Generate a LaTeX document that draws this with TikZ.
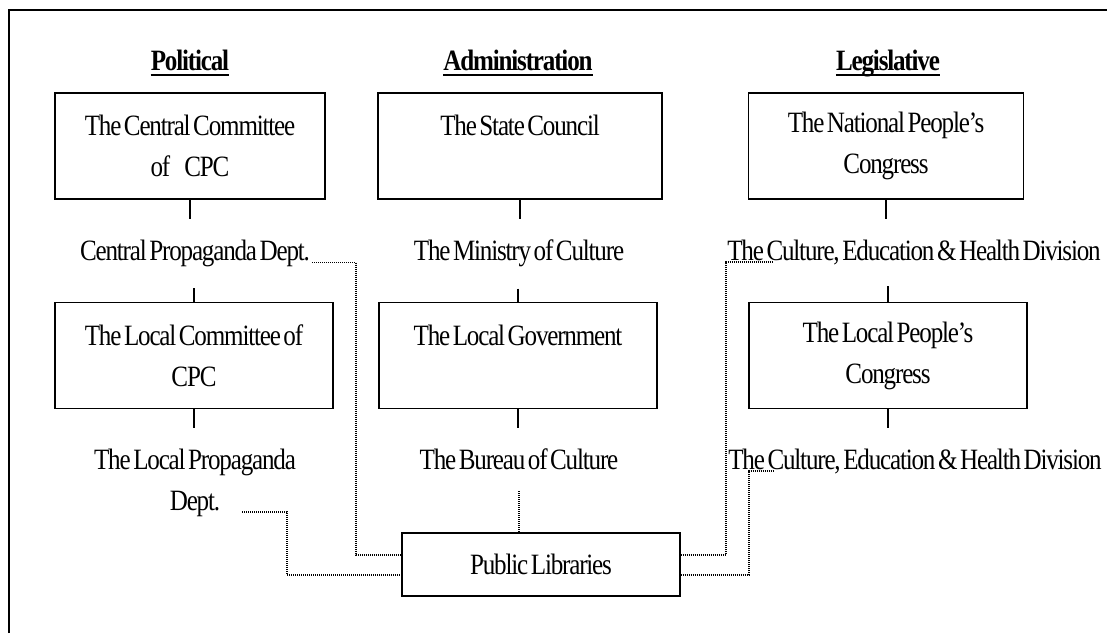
\documentclass[tikz,border=0pt]{standalone}
\usepackage{fontspec}
\setmainfont{Liberation Serif}[FakeStretch=0.85,LetterSpace=-4.0,WordSpace=0.5]

\begin{document}
\begin{tikzpicture}[x=1pt,y=-1pt,
	every node/.style={font=\fontsize{29.5}{41}\selectfont},
	orgbox/.style={draw,line width=1.2pt,minimum width=278pt,minimum height=106pt,align=center,inner sep=0pt},
	unit/.style={align=center,inner xsep=2pt,inner ysep=21pt,anchor=north},
	head/.style={font=\fontsize{29.5}{41}\selectfont\bfseries,inner sep=0pt,anchor=base},
	link/.style={line width=1.2pt},
	dotline/.style={line width=1.3pt,dash pattern=on 1pt off 1pt}]
	\useasboundingbox (0,0) rectangle (1107,633);
	\draw[line width=1.8pt] (9,633) -- (9,10) -- (1107,10);

	\node[head] (pol) at (190,70) {Political};
	\node[head] (adm) at (518,70) {Administration};
	\node[head] (leg) at (888,70) {Legislative};
	\foreach \h in {pol,adm,leg}
		\draw[line width=1.8pt] ([yshift=-5pt]\h.base west) -- ([yshift=-5pt]\h.base east);

	\node[orgbox,minimum width=270pt] (cc) at (190,146) {The Central Committee\\of\hspace{14pt}CPC};
	\node[orgbox,minimum width=284pt] (sc) at (520,146) {The State Council\\ \mbox{}};
	\node[orgbox,minimum width=275pt] (npc) at (886,146) {The National People's\\Congress};
	\node[orgbox] (lcc) at (194,355.5) {The Local Committee of\\CPC};
	\node[orgbox] (lg) at (518,355.5) {The Local Government\\ \mbox{}};
	\node[orgbox] (lpc) at (888,355.5) {The Local People's\\Congress};
	\node[orgbox,minimum height=63pt] (pl) at (541,564.5) {Public Libraries};

	\node[unit] (cpd) at (195,219) {Central Propaganda Dept.};
	\node[unit] (moc) at (519,219) {The Ministry of Culture};
	\node[unit] (ced) at (914,219) {The Culture, Education \& Health Division};
	\node[unit] (lpd) at (195,428) {The Local Propaganda\\Dept.};
	\node[unit] (boc) at (519,428) {The Bureau of Culture};
	\node[unit] (lced) at (915,428) {The Culture, Education \& Health Division};
	\coordinate (lpdend) at (242,512);
	\coordinate (cedend) at (773,262);
	\coordinate (lcedend) at (773,471);

	\draw[link] (cc.south) -- (cc.south |- cpd.north);
	\draw[link] (lcc.north |- cpd.south) -- (lcc.north);
	\draw[link] (lcc.south) -- (lcc.south |- lpd.north);
	\draw[link] (sc.south) -- (sc.south |- moc.north);
	\draw[link] (lg.north |- moc.south) -- (lg.north);
	\draw[link] (lg.south) -- (lg.south |- boc.north);
	\draw[link] (npc.south) -- (npc.south |- ced.north);
	\draw[link] (lpc.north |- ced.south) -- (lpc.north);
	\draw[link] (lpc.south) -- (lpc.south |- lced.north);

	\draw[dotline] ([yshift=-2pt]cpd.base east) -- ++(44,0) |- ([yshift=9.5pt]pl.west);
	\draw[dotline] (lpdend) -- ++(45,0) |- ([yshift=-10.5pt]pl.west);
	\draw[dotline] (boc.south) -- (boc.south |- pl.north);
	\draw[dotline] ([yshift=9.5pt]pl.east) -| ([xshift=-47pt]cedend) -- (cedend);
	\draw[dotline] ([yshift=-10.5pt]pl.east) -| ([xshift=-24pt]lcedend) -- (lcedend);
\end{tikzpicture}
\end{document}
